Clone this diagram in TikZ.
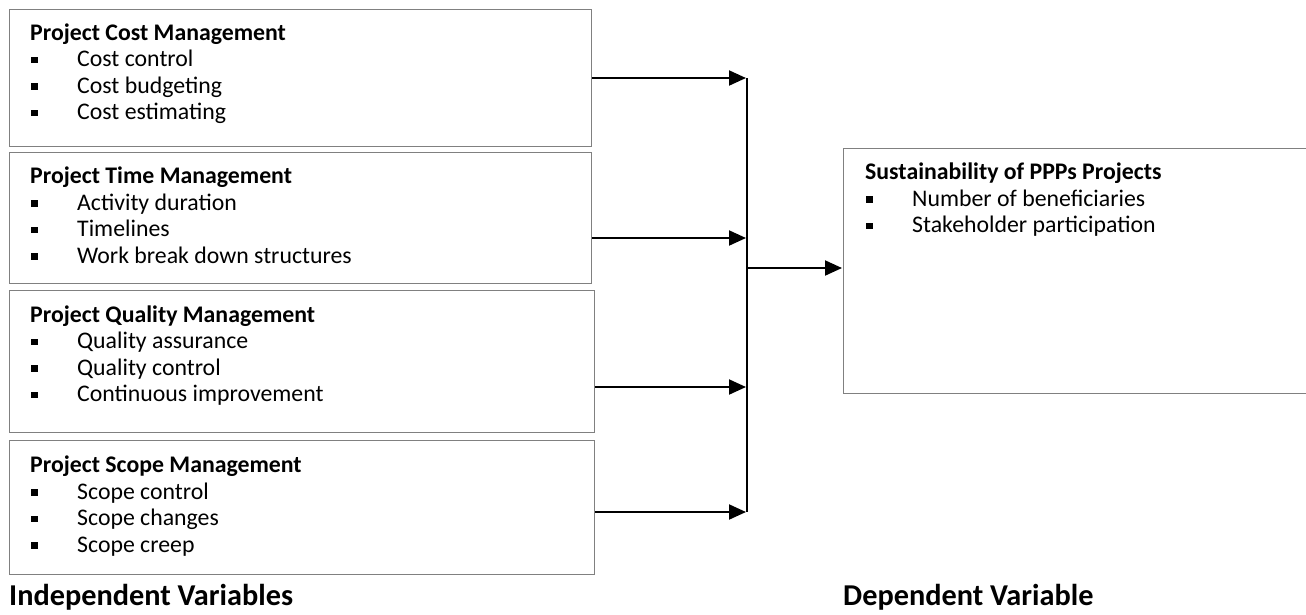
\documentclass[tikz,border=0pt]{standalone}
\usepackage{fontspec}
\setmainfont{Carlito}
\usetikzlibrary{arrows.meta,positioning,calc}
\definecolor{boxgray}{RGB}{128,128,128}
% bullet line inside a variable box
\newcommand{\itm}[1]{\makebox[47pt][l]{\hspace{1pt}\rule[3.5pt]{6.5pt}{6.5pt}}#1}
\tikzset{%
varbox/.style={draw=boxgray,line width=1.3pt,inner sep=0pt,anchor=north west},
vartext/.style={anchor=north west,inner sep=0pt,align=left,
  font=\fontsize{23.8}{26.5}\selectfont},
heading/.style={anchor=base west,inner sep=0pt,
  font=\bfseries\fontsize{30.3}{36}\selectfont},
arr/.style={-{Triangle[length=17pt,width=15pt]},line width=2pt,shorten >=1pt},
bus/.style={line width=1.4pt},
}

\begin{document}
\begin{tikzpicture}[x=1pt,y=-1pt]
 \clip (0,0) rectangle (1306,614);
 \useasboundingbox (0,0) rectangle (1306,614);
 % independent variables
 \node[varbox,minimum width=582pt,minimum height=137pt] (cost) at (9,9) {};
 \node[varbox,minimum width=582pt,minimum height=131pt] (time) at (9,152) {};
 \node[varbox,minimum width=585pt,minimum height=142pt] (quality) at (9,290) {};
 \node[varbox,minimum width=585pt,minimum height=134pt] (scope) at (9,440) {};
 % dependent variable
 \node[varbox,minimum width=470pt,minimum height=245pt] (sust) at (843,148) {};

 \node[vartext] (costtxt) at ([shift={(21,12.5)}]cost.north west)
   {\strut\textbf{Project Cost Management}\\ \itm{Cost control}\\ \itm{Cost budgeting}\\ \itm{Cost estimating}};
 \node[vartext] (timetxt) at ([shift={(21,13)}]time.north west)
   {\strut\textbf{Project Time Management}\\ \itm{Activity duration}\\ \itm{Timelines}\\ \itm{Work break down structures}};
 \node[vartext] (qualitytxt) at ([shift={(21,13.5)}]quality.north west)
   {\strut\textbf{Project Quality Management}\\ \itm{Quality assurance}\\ \itm{Quality control}\\ \itm{Continuous improvement}};
 \node[vartext] (scopetxt) at ([shift={(21,14)}]scope.north west)
   {\strut\textbf{Project Scope Management}\\ \itm{Scope control}\\ \itm{Scope changes}\\ \itm{Scope creep}};
 \node[vartext] (susttxt) at ([shift={(22,13)}]sust.north west)
   {\strut\textbf{Sustainability of PPPs Projects}\\ \itm{Number of beneficiaries}\\ \itm{Stakeholder participation}};

 \node[heading] (indep) at (9,605) {Independent Variables};
 \node[heading] (dep) at (843,605) {Dependent Variable};

 % connectors
 \coordinate (in1) at (747,78);
 \coordinate (in2) at (747,238);
 \coordinate (in3) at (747,387);
 \coordinate (in4) at (747,512);
 \coordinate (out) at (747,268);
 \draw[bus] (in1) -- (in4);
 \foreach \b/\c in {cost/in1,time/in2,quality/in3,scope/in4}
   \draw[arr] (\b.east |- \c) -- (\c);
 \draw[arr] (out) -- (out -| sust.west);
\end{tikzpicture}
\end{document}
